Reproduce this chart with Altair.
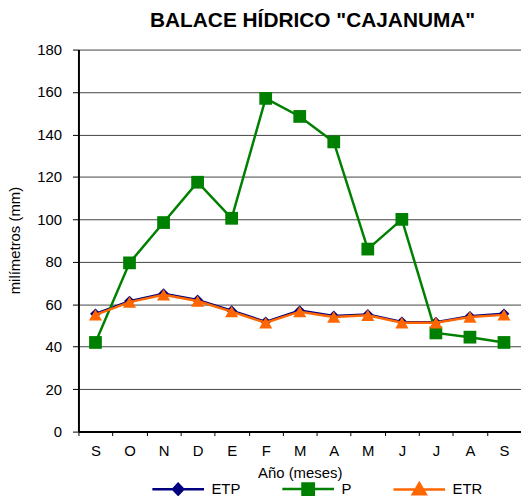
import altair as alt
import pandas as pd

months = ["S", "O", "N", "D", "E", "F", "M", "A", "M", "J", "J", "A", "S"]
series = ["ETP", "P", "ETR"]
etp = [55.5, 61.5, 65.0, 62.0, 57.0, 51.7, 57.0, 54.5, 55.2, 51.7, 51.5, 54.3, 55.5]
p = [42.0, 79.5, 98.5, 117.5, 100.5, 157.0, 148.5, 136.5, 86.0, 100.0, 46.5, 44.5, 42.0]
etr = [55.0, 61.0, 64.5, 61.5, 56.5, 51.3, 56.5, 54.0, 54.8, 51.3, 51.3, 54.0, 55.0]
colors = ["#000080", "#008000", "#FF6600"]
marker_shapes = ["diamond", "square", "triangle-up"]
marker_sizes = [120, 165, 175]

rows = []
for name, vals in zip(series, [etp, p, etr]):
    for i, v in enumerate(vals):
        rows.append({"idx": i, "serie": name, "valor": v})
df = pd.DataFrame(rows)

FONT = "Liberation Sans"
label_expr = "[" + ",".join("'%s'" % m for m in months) + "][datum.value]"

x = alt.X(
    "idx:O",
    scale=alt.Scale(paddingInner=0, paddingOuter=0),
    axis=alt.Axis(
        title="Año (meses)", labelExpr=label_expr, labelAngle=0, tickBand="extent",
        tickSize=4, tickColor="black", domainColor="black", domainWidth=2,
        labelFontSize=15, labelPadding=8, titleFontSize=15, titleFontWeight="normal",
        titleY=34, titleBaseline="top", labelColor="black", titleColor="black",
        labelFont=FONT, titleFont=FONT,
    ),
)
y = alt.Y(
    "valor:Q",
    scale=alt.Scale(domain=[0, 180], nice=False),
    axis=alt.Axis(
        title="milímetros (mm)", values=list(range(0, 181, 20)), tickSize=6,
        tickColor="black", domainColor="black", domainWidth=2, gridColor="#444444",
        gridWidth=1, labelFontSize=15, labelPadding=11, titleFontSize=15,
        titleFontWeight="normal", labelColor="black", titleColor="black",
        titleX=-64, titleY=192, titleAngle=270, titleAlign="center", titleBaseline="middle",
        labelFont=FONT, titleFont=FONT,
    ),
)

shape_sig = (
    "datum.value === 'ETP' ? 'M-1,0H1M0,-0.21L0.2,0L0,0.21L-0.2,0Z' : "
    "datum.value === 'P' ? 'M-1,0H1M-0.22,-0.22H0.22V0.22H-0.22Z' : "
    "'M-1,0H1M0,-0.24L0.25,0.19H-0.25Z'"
)
legend_encode = {"symbols": {"update": {
    "shape": {"signal": shape_sig},
    "fill": {"signal": "scale('color', datum.value)"},
    "stroke": {"signal": "scale('color', datum.value)"},
    "strokeWidth": {"value": 2.5},
    "size": {"value": 2704},
    "opacity": {"value": 1},
}}}

color_scale = alt.Scale(domain=series, range=colors)
legend = alt.Legend(
    orient="none", legendX=73, legendY=415, direction="horizontal", title=None,
    symbolSize=2704, labelFontSize=15, labelFont=FONT, labelColor="black",
    columnPadding=36, labelOffset=6, padding=0, symbolStrokeWidth=2.5,
)

layers = []
for k, (name, shp, sz) in enumerate(zip(series, marker_shapes, marker_sizes)):
    base = alt.Chart(df).transform_filter(alt.datum.serie == name)
    layers.append(base.mark_line(strokeWidth=2.5).encode(
        x=x, y=y,
        color=alt.Color("serie:N", scale=color_scale, legend=legend if k == 0 else None),
        order=alt.Order("idx:Q"),
    ))
    layers.append(base.mark_point(filled=True, opacity=1, shape=shp, size=sz).encode(
        x=x, y=y, color=alt.Color("serie:N", scale=color_scale, legend=None),
    ))

chart = alt.layer(*layers).properties(
    width=446, height=385,
    title=alt.Title('BALACE HÍDRICO "CAJANUMA"', fontSize=21, fontWeight="bold", font=FONT,
                    color="black", offset=12, dx=13),
    autosize=alt.AutoSizeParams(type="none"),
    padding={"left": 71, "top": 40, "right": 0, "bottom": 63},
).configure_view(stroke=None).configure_axisX(grid=False)

_orig_to_dict = chart.to_dict


def _inject(node):
    if isinstance(node, dict):
        enc = node.get("encoding")
        if isinstance(enc, dict):
            leg = enc.get("color", {}).get("legend")
            if isinstance(leg, dict):
                leg["encode"] = legend_encode
        for v in node.values():
            _inject(v)
    elif isinstance(node, list):
        for v in node:
            _inject(v)


def _to_dict(*args, **kwargs):
    d = _orig_to_dict(*args, **kwargs)
    _inject(d)
    return d


object.__setattr__(chart, "to_dict", _to_dict)

chart.save("out.html", embed_options={"renderer": "svg", "actions": False})
